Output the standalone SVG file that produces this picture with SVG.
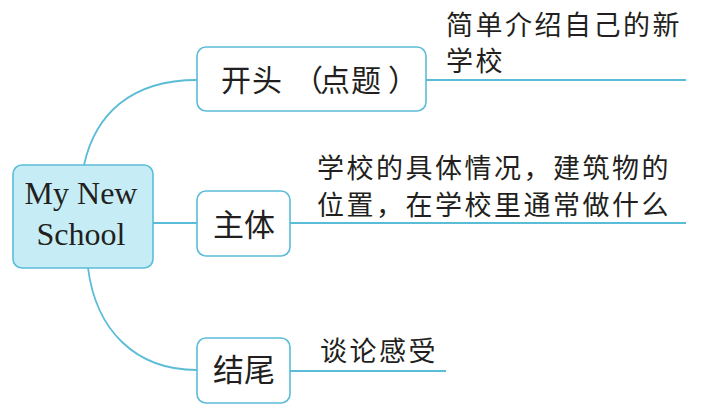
<svg xmlns="http://www.w3.org/2000/svg" width="705" height="412" viewBox="0 0 705 412">
<style>
.node{fill:#ffffff;stroke:#5bbcd8;stroke-width:1.6}
.center{fill:#c6edf6;stroke:#5bbcd8;stroke-width:1.6}
.conn{fill:none;stroke:#5bbcd8;stroke-width:1.8}
.zh{font-family:"Noto Sans CJK SC","Noto Sans",sans-serif;fill:#231f20}
.en{font-family:"Liberation Serif",serif;fill:#231f20;font-size:32px;text-anchor:middle}
.note{font-size:27px;letter-spacing:2.5px}
.lbl{font-size:30px}
.mid{text-anchor:middle;font-size:31px}
</style>
<rect width="705" height="412" fill="#ffffff"/>
<g id="connectors">
<path class="conn" d="M84,165 C95,115 130,80 197,80"/>
<path class="conn" d="M153,223 L197,223"/>
<path class="conn" d="M88,268 C96,330 135,370 197,370"/>
<path class="conn" d="M426,80 L686,80"/>
<path class="conn" d="M290,223 L686,223"/>
<path class="conn" d="M290,371 L446,371"/>
</g>
<g id="center">
<rect class="center" x="13" y="165" width="140" height="103" rx="9"/>
<text class="en" x="81" y="204">My New</text>
<text class="en" x="81" y="245">School</text>
</g>
<g id="opening">
<rect class="node" x="197" y="47" width="229" height="64" rx="9"/>
<text class="zh lbl" x="221 252 293 320 351 388" y="91">开头（点题）</text>
</g>
<g id="body">
<rect class="node" x="197" y="191" width="93" height="65" rx="9"/>
<text class="zh mid" x="244" y="236">主体</text>
</g>
<g id="ending">
<rect class="node" x="197" y="338" width="93" height="65" rx="9"/>
<text class="zh mid" x="244" y="381">结尾</text>
</g>
<g id="notes">
<text class="zh note" x="446" y="35">简单介绍自己的新</text>
<text class="zh note" x="446" y="71">学校</text>
<text class="zh note" x="317" y="178">学校的具体情况，建筑物的</text>
<text class="zh note" x="317" y="215">位置，在学校里通常做什么</text>
<text class="zh note" x="320" y="361">谈论感受</text>
</g>
</svg>
